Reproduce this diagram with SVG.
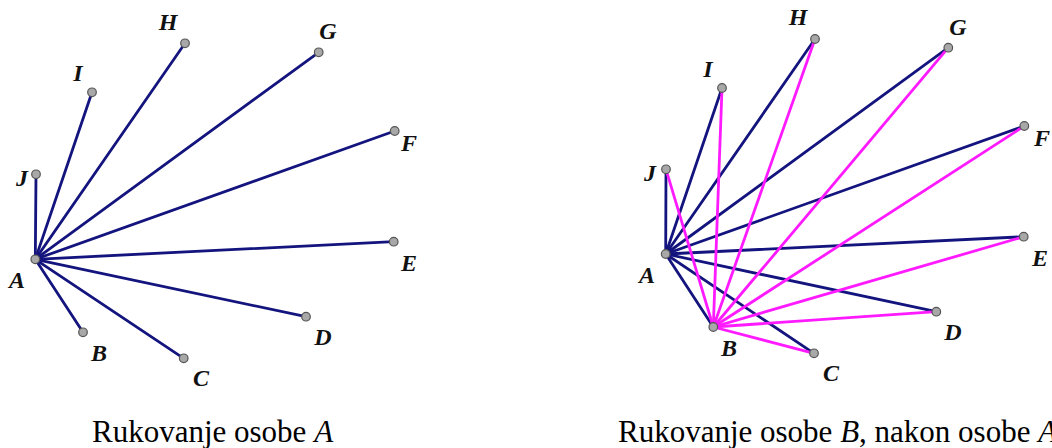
<svg xmlns="http://www.w3.org/2000/svg" width="1052" height="448" viewBox="0 0 1052 448">
<style>
.e{stroke:#14147e;stroke-width:2.8;stroke-linecap:round;fill:none}
.m{stroke:#ff1aff;stroke-width:2.8;stroke-linecap:round;fill:none}
.p{fill:#a8a8a8;stroke:#555;stroke-width:1.2}
.l{font-family:"Liberation Serif",serif;font-weight:bold;font-style:italic;font-size:24px;fill:#111;text-anchor:middle}
.c{font-family:"Liberation Serif",serif;font-size:31px;fill:#000}
</style>
<rect width="1052" height="448" fill="#fff"/>
<g id="connectors">
<g id="left-edges">
<line class="e" x1="35.3" y1="259.3" x2="83" y2="332.3"/>
<line class="e" x1="35.3" y1="259.3" x2="183.7" y2="358.3"/>
<line class="e" x1="35.3" y1="259.3" x2="306" y2="316.7"/>
<line class="e" x1="35.3" y1="259.3" x2="393.7" y2="241.7"/>
<line class="e" x1="35.3" y1="259.3" x2="394.7" y2="131"/>
<line class="e" x1="35.3" y1="259.3" x2="318.7" y2="52.3"/>
<line class="e" x1="35.3" y1="259.3" x2="185" y2="43.3"/>
<line class="e" x1="35.3" y1="259.3" x2="92" y2="92.3"/>
<line class="e" x1="35.3" y1="259.3" x2="36" y2="174.3"/>
</g>
<g id="right-edges-A">
<line class="e" x1="665.7" y1="254" x2="713.3" y2="327"/>
<line class="e" x1="665.7" y1="254" x2="814" y2="353.3"/>
<line class="e" x1="665.7" y1="254" x2="936.3" y2="311.7"/>
<line class="e" x1="665.7" y1="254" x2="1023.7" y2="236.7"/>
<line class="e" x1="665.7" y1="254" x2="1024.3" y2="126"/>
<line class="e" x1="665.7" y1="254" x2="948.3" y2="47.7"/>
<line class="e" x1="665.7" y1="254" x2="815" y2="39"/>
<line class="e" x1="665.7" y1="254" x2="722" y2="88"/>
<line class="e" x1="665.7" y1="254" x2="666" y2="169.3"/>
</g>
<g id="right-edges-B">
<line class="m" x1="713.3" y1="327" x2="814" y2="353.3"/>
<line class="m" x1="713.3" y1="327" x2="936.3" y2="311.7"/>
<line class="m" x1="713.3" y1="327" x2="1023.7" y2="236.7"/>
<line class="m" x1="713.3" y1="327" x2="1024.3" y2="126"/>
<line class="m" x1="713.3" y1="327" x2="948.3" y2="47.7"/>
<line class="m" x1="713.3" y1="327" x2="815" y2="39"/>
<line class="m" x1="713.3" y1="327" x2="722" y2="88"/>
<line class="m" x1="713.3" y1="327" x2="666" y2="169.3"/>
</g>
</g>
<g id="L-A"><circle class="p" cx="35.3" cy="259.3" r="4.3"/><text class="l" x="17" y="288">A</text></g>
<g id="L-B"><circle class="p" cx="83" cy="332.3" r="4.3"/><text class="l" x="99" y="361">B</text></g>
<g id="L-C"><circle class="p" cx="183.7" cy="358.3" r="4.3"/><text class="l" x="201" y="386">C</text></g>
<g id="L-D"><circle class="p" cx="306" cy="316.7" r="4.3"/><text class="l" x="323" y="345">D</text></g>
<g id="L-E"><circle class="p" cx="393.7" cy="241.7" r="4.3"/><text class="l" x="409" y="271">E</text></g>
<g id="L-F"><circle class="p" cx="394.7" cy="131" r="4.3"/><text class="l" x="409" y="151">F</text></g>
<g id="L-G"><circle class="p" cx="318.7" cy="52.3" r="4.3"/><text class="l" x="328" y="39">G</text></g>
<g id="L-H"><circle class="p" cx="185" cy="43.3" r="4.3"/><text class="l" x="168" y="29.5">H</text></g>
<g id="L-I"><circle class="p" cx="92" cy="92.3" r="4.3"/><text class="l" x="78" y="81">I</text></g>
<g id="L-J"><circle class="p" cx="36" cy="174.3" r="4.3"/><text class="l" x="22" y="186">J</text></g>
<g id="R-A"><circle class="p" cx="665.7" cy="254" r="4.3"/><text class="l" x="647" y="283">A</text></g>
<g id="R-B"><circle class="p" cx="713.3" cy="327" r="4.3"/><text class="l" x="729" y="356">B</text></g>
<g id="R-C"><circle class="p" cx="814" cy="353.3" r="4.3"/><text class="l" x="831" y="381">C</text></g>
<g id="R-D"><circle class="p" cx="936.3" cy="311.7" r="4.3"/><text class="l" x="953" y="340">D</text></g>
<g id="R-E"><circle class="p" cx="1023.7" cy="236.7" r="4.3"/><text class="l" x="1040" y="266">E</text></g>
<g id="R-F"><circle class="p" cx="1024.3" cy="126" r="4.3"/><text class="l" x="1042" y="146">F</text></g>
<g id="R-G"><circle class="p" cx="948.3" cy="47.7" r="4.3"/><text class="l" x="958" y="35">G</text></g>
<g id="R-H"><circle class="p" cx="815" cy="39" r="4.3"/><text class="l" x="798" y="25">H</text></g>
<g id="R-I"><circle class="p" cx="722" cy="88" r="4.3"/><text class="l" x="708" y="77">I</text></g>
<g id="R-J"><circle class="p" cx="666" cy="169.3" r="4.3"/><text class="l" x="650" y="181">J</text></g>
<text class="c" x="92" y="442">Rukovanje osobe <tspan font-style="italic">A</tspan></text>
<text class="c" x="618" y="442">Rukovanje osobe <tspan font-style="italic">B</tspan>, nakon osobe <tspan font-style="italic">A</tspan></text>
</svg>
